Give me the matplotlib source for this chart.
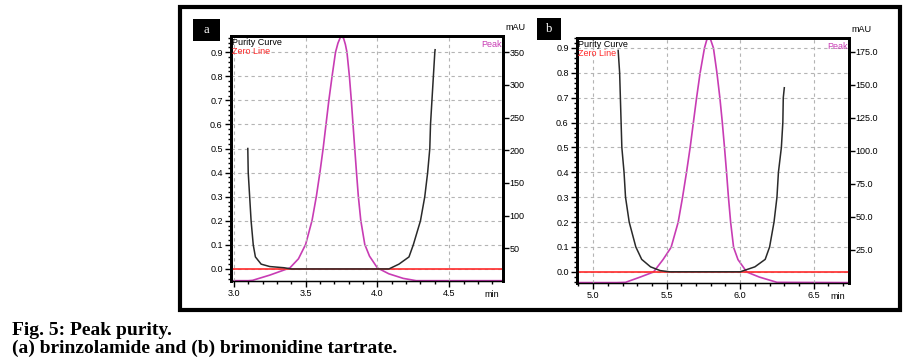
import matplotlib.pyplot as plt
from matplotlib.patches import Rectangle
from matplotlib.ticker import MultipleLocator

plt.rcParams['font.family'] = ['Liberation Sans', 'DejaVu Sans']

# panel a - brinzolamide
a_peak_x = [2.98, 3.10, 3.13, 3.25, 3.39, 3.45, 3.50, 3.545, 3.575, 3.60, 3.622, 3.642, 3.662, 3.684,
            3.708, 3.725, 3.74, 3.752, 3.765, 3.777, 3.788, 3.805, 3.818, 3.830, 3.842, 3.854, 3.867,
            3.884, 3.912, 3.945, 4.00, 4.08, 4.18, 4.27, 4.875]
a_peak_y = [0.5, 0.5, 1, 9, 20, 34, 56, 93, 130, 167, 203, 240, 277, 313,
            350, 364, 372, 375, 371, 362, 350, 313, 277, 240, 203, 167, 130,
            93, 56, 38, 20, 11, 4, 0.5, 0.5]
a_pur_x = [3.097, 3.10, 3.11, 3.12, 3.135, 3.15, 3.19, 3.25, 3.35, 3.40, 4.08, 4.15, 4.22, 4.25,
           4.30, 4.33, 4.35, 4.365, 4.37, 4.38, 4.39, 4.40, 4.402]
a_pur_y = [0.50, 0.40, 0.30, 0.20, 0.10, 0.05, 0.02, 0.01, 0.005, 0.0, 0.0, 0.02, 0.05, 0.10,
           0.20, 0.30, 0.40, 0.50, 0.60, 0.70, 0.80, 0.90, 0.91]
a_xticks = [3.0, 3.5, 4.0, 4.5]
a_rticks = [50, 100, 150, 200, 250, 300, 350]
a_rlabels = ['50', '100', '150', '200', '250', '300', '350']

# panel b - brimonidine tartrate
b_peak_x = [4.89, 5.16, 5.22, 5.32, 5.41, 5.475, 5.53, 5.578, 5.608, 5.635, 5.66, 5.682, 5.703, 5.727,
            5.757, 5.772, 5.785, 5.80, 5.818, 5.842, 5.862, 5.878, 5.893, 5.907, 5.92, 5.935, 5.955,
            5.985, 6.045, 6.13, 6.25, 6.74]
b_peak_y = [0.3, 0.3, 0.5, 4.5, 8.3, 17.7, 27, 46, 65, 84, 103, 122, 140, 159,
            178, 184, 186, 184, 178, 159, 140, 122, 103, 84, 65, 46, 27,
            17.7, 8.3, 4.5, 0.5, 0.3]
b_pur_x = [5.17, 5.18, 5.185, 5.19, 5.195, 5.21, 5.22, 5.245, 5.29, 5.33, 5.39, 5.455, 5.52, 6.0,
           6.10, 6.17, 6.20, 6.23, 6.25, 6.26, 6.28, 6.29, 6.293, 6.30]
b_pur_y = [0.89, 0.80, 0.70, 0.60, 0.50, 0.40, 0.30, 0.20, 0.10, 0.05, 0.02, 0.005, 0.0, 0.0,
           0.02, 0.05, 0.10, 0.20, 0.30, 0.40, 0.50, 0.60, 0.70, 0.74]
b_xticks = [5.0, 5.5, 6.0, 6.5]
b_rticks = [25, 50, 75, 100, 125, 150, 175]
b_rlabels = ['25.0', '50.0', '75.0', '100.0', '125.0', '150.0', '175.0']

left_ticks = [0.0, 0.1, 0.2, 0.3, 0.4, 0.5, 0.6, 0.7, 0.8, 0.9]

W, H = 916, 363
fig = plt.figure(figsize=(W / 100, H / 100), dpi=100)

MAG = '#c83cb4'
RED = '#ff2a2a'
FS = 6.5


def px(l, t, r, b):
    return [l / W, (H - b) / H, (r - l) / W, (b - t) / H]


def panel(box, letter, lbox, xlim, ylim, rlim, xt, rt, rl, px_, py_, qx, qy):
    ax = fig.add_axes(px(*box))
    ax2 = ax.twinx()
    ax.set_zorder(ax2.get_zorder() + 1)
    ax.patch.set_visible(False)

    ax.set_xlim(*xlim)
    ax.set_ylim(*ylim)
    ax2.set_ylim(*rlim)

    ax.grid(True, color='#b4b4b4', linestyle=(0, (3, 3)), linewidth=0.8)
    ax.set_xticks(xt)
    ax.set_yticks(left_ticks)
    ax.xaxis.set_minor_locator(MultipleLocator(0.1))
    ax.yaxis.set_minor_locator(MultipleLocator(0.02))
    ax.set_xticklabels(['%.1f' % v for v in xt], fontsize=FS)
    ax.set_yticklabels(['%.1f' % v for v in left_ticks], fontsize=FS)
    ax.tick_params(axis='both', which='major', direction='out', length=4, width=1, pad=2)
    ax.tick_params(axis='both', which='minor', direction='out', length=2.5, width=1)

    ax2.set_yticks(rt)
    ax2.set_yticklabels(rl, fontsize=FS)
    ax2.tick_params(axis='y', direction='out', length=4, width=1, pad=0.5)

    for s in ['left', 'right', 'top']:
        ax.spines[s].set_linewidth(2)
        ax2.spines[s].set_linewidth(2)
    ax.spines['bottom'].set_linewidth(1)

    # zero line, purity curve, peak
    ax.plot([xlim[0], xlim[1]], [0, 0], color=RED, lw=1.2, zorder=2)
    ax.plot(qx, qy, color='#2a2a2a', lw=1.1, zorder=3)
    ax2.plot(px_, py_, color=MAG, lw=1.2)

    ax.text(0.005, 0.99, 'Purity Curve', transform=ax.transAxes, fontsize=FS,
            ha='left', va='top', zorder=5)
    ax.text(0.005, 0.955, 'Zero Line', transform=ax.transAxes, fontsize=FS, color=RED,
            ha='left', va='top', zorder=5)
    ax.text(0.995, 0.985, 'Peak', transform=ax.transAxes, fontsize=FS, color=MAG,
            ha='right', va='top', zorder=5)
    ax.text(1.01, 1.015, 'mAU', transform=ax.transAxes, fontsize=FS, ha='left', va='bottom')
    ax.text(0.985, -0.035, 'min', transform=ax.transAxes, fontsize=FS, ha='right', va='top')

    l, t, r, b = lbox
    fig.patches.append(Rectangle((l / W, (H - b) / H), (r - l) / W, (b - t) / H,
                                 transform=fig.transFigure, facecolor='black'))
    fig.text((l + r) / 2 / W, (H - (t + b) / 2) / H, letter, color='white',
             fontsize=9, family='Liberation Serif', ha='center', va='center')


panel((231, 36, 503, 281), 'a', (193, 19, 220, 41), (2.98, 4.875), (-0.05, 0.967), (0, 375),
      a_xticks, a_rticks, a_rlabels, a_peak_x, a_peak_y, a_pur_x, a_pur_y)
panel((577, 38, 849, 283), 'b', (537, 18, 561, 40), (4.89, 6.74), (-0.045, 0.94), (0, 185.6),
      b_xticks, b_rticks, b_rlabels, b_peak_x, b_peak_y, b_pur_x, b_pur_y)

# outer frame
fig.patches.append(Rectangle((180 / W, (H - 310) / H), 720 / W, 303 / H, transform=fig.transFigure,
                             fill=False, edgecolor='black', linewidth=3))

fig.text(12 / W, (H - 335) / H, 'Fig. 5: Peak purity.', fontsize=14, fontweight='bold',
         family='Liberation Serif', va='baseline')
fig.text(12 / W, (H - 353) / H, '(a) brinzolamide and (b) brimonidine tartrate.', fontsize=14,
         fontweight='bold', family='Liberation Serif', va='baseline')

fig.savefig('out.png', dpi=100)
